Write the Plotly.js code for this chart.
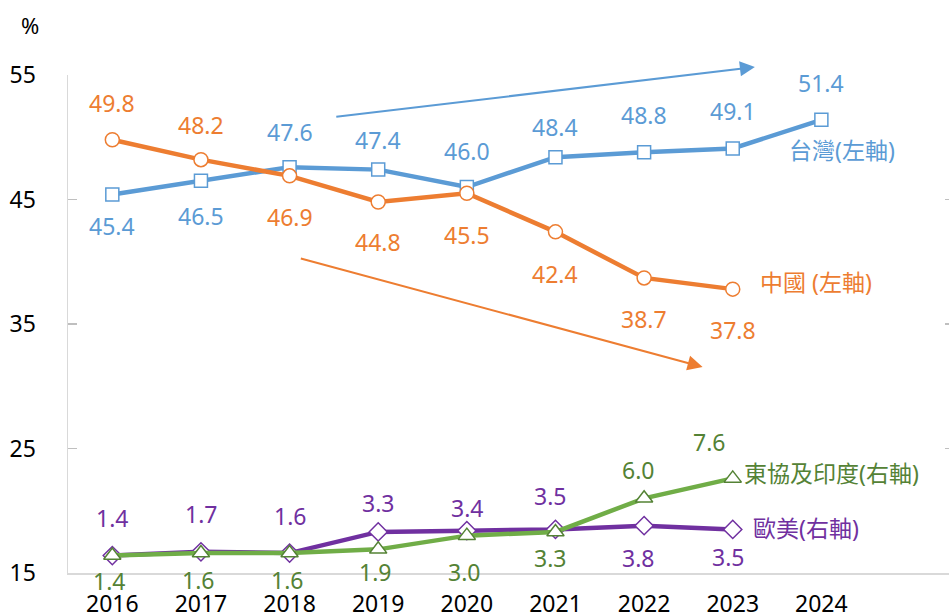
<!DOCTYPE html>
<html>
<head>
<meta charset="utf-8">
<script src="https://cdn.plot.ly/plotly-3.0.1.min.js"></script>
<style>html,body{margin:0;padding:0;background:#fff;}#chart{width:949px;height:613px;}</style>
</head>
<body>
<div id="chart"></div>
<script>
// ---- data ----
const years = [2016, 2017, 2018, 2019, 2020, 2021, 2022, 2023, 2024];
const yearLabels = ['2016', '2017', '2018', '2019', '2020', '2021', '2022', '2023', '2024'];
const taiwan = [45.4, 46.5, 47.6, 47.4, 46.0, 48.4, 48.8, 49.1, 51.4];
const china = [49.8, 48.2, 46.9, 44.8, 45.5, 42.4, 38.7, 37.8];
const asean = [1.4, 1.6, 1.6, 1.9, 3.0, 3.3, 6.0, 7.6];
const euus = [1.4, 1.7, 1.6, 3.3, 3.4, 3.5, 3.8, 3.5];
const seriesNames = ['台灣(左軸)', '中國 (左軸)', '東協及印度(右軸)', '歐美(右軸)'];
const leftTicks = [15, 25, 35, 45, 55];

// ---- label placement (pixel shifts, style only) ----
const twShift = [-31, -35, 35, 30, 36, 30, 37, 37, 37];
const cnShift = [37, 35, -41, -40, -42, -42, -41, -41];
const asShift = [-25, -27, -27, -23, -36, -26, 28, 36];
const asXShift = [-3, -3, -3, -3, -3, -5, -6, -24];
const euShift = [38, 38, 37, 29, 23, 33, -32, -28];
const euXShift = [0, 0, 0, 0, 0, -5, -6, -5];

const BLUE = '#5B9BD5', ORANGE = '#ED7D31', GREEN = '#70AD47', GREEN_T = '#548235', PURPLE = '#7030A0';
const FONT = 'Noto Sans, Noto Sans CJK TC, sans-serif';
const LBL = 23;

const traces = [
  {x: years, y: taiwan, yaxis: 'y', mode: 'lines+markers', line: {color: BLUE, width: 4.5},
   marker: {symbol: 'square', size: 13, color: '#fff', line: {color: BLUE, width: 1.5}}},
  {x: years.slice(0, china.length), y: china, yaxis: 'y', mode: 'lines+markers', line: {color: ORANGE, width: 4.5},
   marker: {symbol: 'circle', size: 14, color: '#fff', line: {color: ORANGE, width: 1.5}}},
  {x: years.slice(0, euus.length), y: euus, yaxis: 'y2', mode: 'lines+markers', line: {color: PURPLE, width: 4.5},
   marker: {symbol: 'diamond', size: 14, color: '#fff', line: {color: PURPLE, width: 1.5}}},
  {x: years.slice(0, asean.length), y: asean, yaxis: 'y2', mode: 'lines+markers', line: {color: GREEN, width: 4.5},
   marker: {symbol: 'triangle-up', size: 15, color: '#fff', line: {color: GREEN_T, width: 1.5}}}
];

const annotations = [];
function addLabels(vals, yref, color, shifts, xshifts) {
  vals.forEach((v, i) => {
    annotations.push({x: years[i], y: v, xref: 'x', yref: yref, text: v.toFixed(1), showarrow: false,
      yshift: shifts[i], xshift: xshifts ? xshifts[i] : 0, font: {family: FONT, size: LBL, color: color}});
  });
}
addLabels(taiwan, 'y', BLUE, twShift);
addLabels(china, 'y', ORANGE, cnShift);
addLabels(asean, 'y2', GREEN_T, asShift, asXShift);
addLabels(euus, 'y2', PURPLE, euShift, euXShift);

// series name labels
annotations.push({x: 2023.61, y: 48.98, xref: 'x', yref: 'y', text: seriesNames[0], showarrow: false, xanchor: 'left', font: {family: FONT, size: LBL, color: BLUE}});
annotations.push({x: 2023.28, y: 38.37, xref: 'x', yref: 'y', text: seriesNames[1], showarrow: false, xanchor: 'left', font: {family: FONT, size: LBL, color: ORANGE}});
annotations.push({x: 2023.11, y: 8.03, xref: 'x', yref: 'y2', text: seriesNames[2], showarrow: false, xanchor: 'left', font: {family: FONT, size: LBL, color: GREEN_T}});
annotations.push({x: 2023.21, y: 3.61, xref: 'x', yref: 'y2', text: seriesNames[3], showarrow: false, xanchor: 'left', font: {family: FONT, size: LBL, color: PURPLE}});

// trend arrows
annotations.push({x: 2023.25, y: 55.64, ax: 2018.51, ay: 51.63, xref: 'x', yref: 'y', axref: 'x', ayref: 'y', text: '',
  showarrow: true, arrowhead: 2, arrowsize: 1.5, arrowwidth: 2, arrowcolor: BLUE});
annotations.push({x: 2022.66, y: 31.55, ax: 2018.11, ay: 40.3, xref: 'x', yref: 'y', axref: 'x', ayref: 'y', text: '',
  showarrow: true, arrowhead: 2, arrowsize: 1.5, arrowwidth: 2, arrowcolor: ORANGE});

// percent unit
annotations.push({x: -0.043, y: 1.1, xref: 'paper', yref: 'paper', xanchor: 'center', yanchor: 'middle',
  text: '%', showarrow: false, font: {family: FONT, size: 22, color: '#000'}});

const layout = {
  width: 949, height: 613,
  margin: {l: 68, r: 0, t: 75, b: 40},
  paper_bgcolor: '#fff', plot_bgcolor: '#fff',
  showlegend: false,
  font: {family: FONT, color: '#000'},
  xaxis: {range: [2015.5, 2025.44], tickvals: years, ticktext: yearLabels, showgrid: false, zeroline: false,
    showline: true, linecolor: '#d9d9d9', linewidth: 1.5, ticks: '', ticklabelstandoff: 10,
    tickfont: {family: FONT, size: 23, color: '#000'}},
  yaxis: {range: [15, 55], tickvals: leftTicks, showgrid: false, zeroline: false, showline: true,
    linecolor: '#d9d9d9', linewidth: 1.5, ticks: 'inside', ticklen: 9, tickcolor: '#bfbfbf', tickwidth: 1.5,
    ticklabelstandoff: 26, tickfont: {family: FONT, size: 23, color: '#000'}},
  yaxis2: {range: [0, 40], dtick: 10, overlaying: 'y', side: 'right', showgrid: false, zeroline: false,
    showline: false, showticklabels: false, ticks: 'inside', ticklen: 4, tickcolor: '#bfbfbf', tickwidth: 1.5},
  annotations: annotations
};

Plotly.newPlot('chart', traces, layout, {displayModeBar: false, staticPlot: true});
</script>
</body>
</html>
